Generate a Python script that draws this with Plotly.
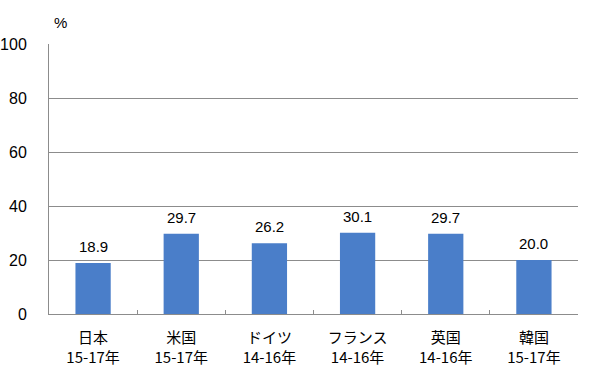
import plotly.graph_objects as go

countries = ["日本", "米国", "ドイツ", "フランス", "英国", "韓国"]
periods = ["15-17年", "15-17年", "14-16年", "14-16年", "14-16年", "15-17年"]
values = [18.9, 29.7, 26.2, 30.1, 29.7, 20.0]
y_ticks = [0, 20, 40, 60, 80, 100]

cats = [f"{c}<br>{p}" for c, p in zip(countries, periods)]

font_family = "Liberation Sans, Noto Sans CJK JP, Arial, sans-serif"
jp_family = "Noto Sans CJK JP, sans-serif"

fig = go.Figure(
    go.Bar(
        x=cats,
        y=values,
        marker=dict(color="#4a7ec9", line=dict(width=0)),
        width=0.4,
        cliponaxis=False,
    )
)

annotations = [
    dict(
        x=c,
        y=v,
        xref="x",
        yref="y",
        text=f"{v:.1f}",
        showarrow=False,
        yanchor="bottom",
        yshift=6,
        font=dict(size=15, color="#000000", family=font_family),
    )
    for c, v in zip(cats, values)
]
annotations.append(
    dict(
        text="%",
        xref="paper",
        yref="paper",
        x=(60 - 49) / 529,
        y=1.0,
        xanchor="center",
        yanchor="middle",
        yshift=22,
        showarrow=False,
        font=dict(size=15, color="#000000", family=font_family),
    )
)

fig.update_layout(
    width=600,
    height=376,
    margin=dict(l=49, r=22, t=44, b=62),
    paper_bgcolor="white",
    plot_bgcolor="white",
    showlegend=False,
    font=dict(family=font_family, size=15, color="#000000"),
    annotations=annotations,
)

fig.update_yaxes(
    range=[0, 100],
    tickvals=y_ticks,
    showgrid=True,
    gridcolor="#8c8c8c",
    gridwidth=1,
    showline=True,
    linecolor="#8c8c8c",
    linewidth=1,
    ticks="",
    ticklabelstandoff=18,
    tickfont=dict(size=16, family=font_family),
    zeroline=False,
    automargin=False,
)

fig.update_xaxes(
    showline=True,
    linecolor="#8c8c8c",
    linewidth=1,
    tickson="boundaries",
    ticks="inside",
    ticklen=4,
    tickcolor="#8c8c8c",
    tickfont=dict(size=15, family=jp_family),
    ticklabelstandoff=10,
    automargin=False,
)

fig.write_html("out.html")
